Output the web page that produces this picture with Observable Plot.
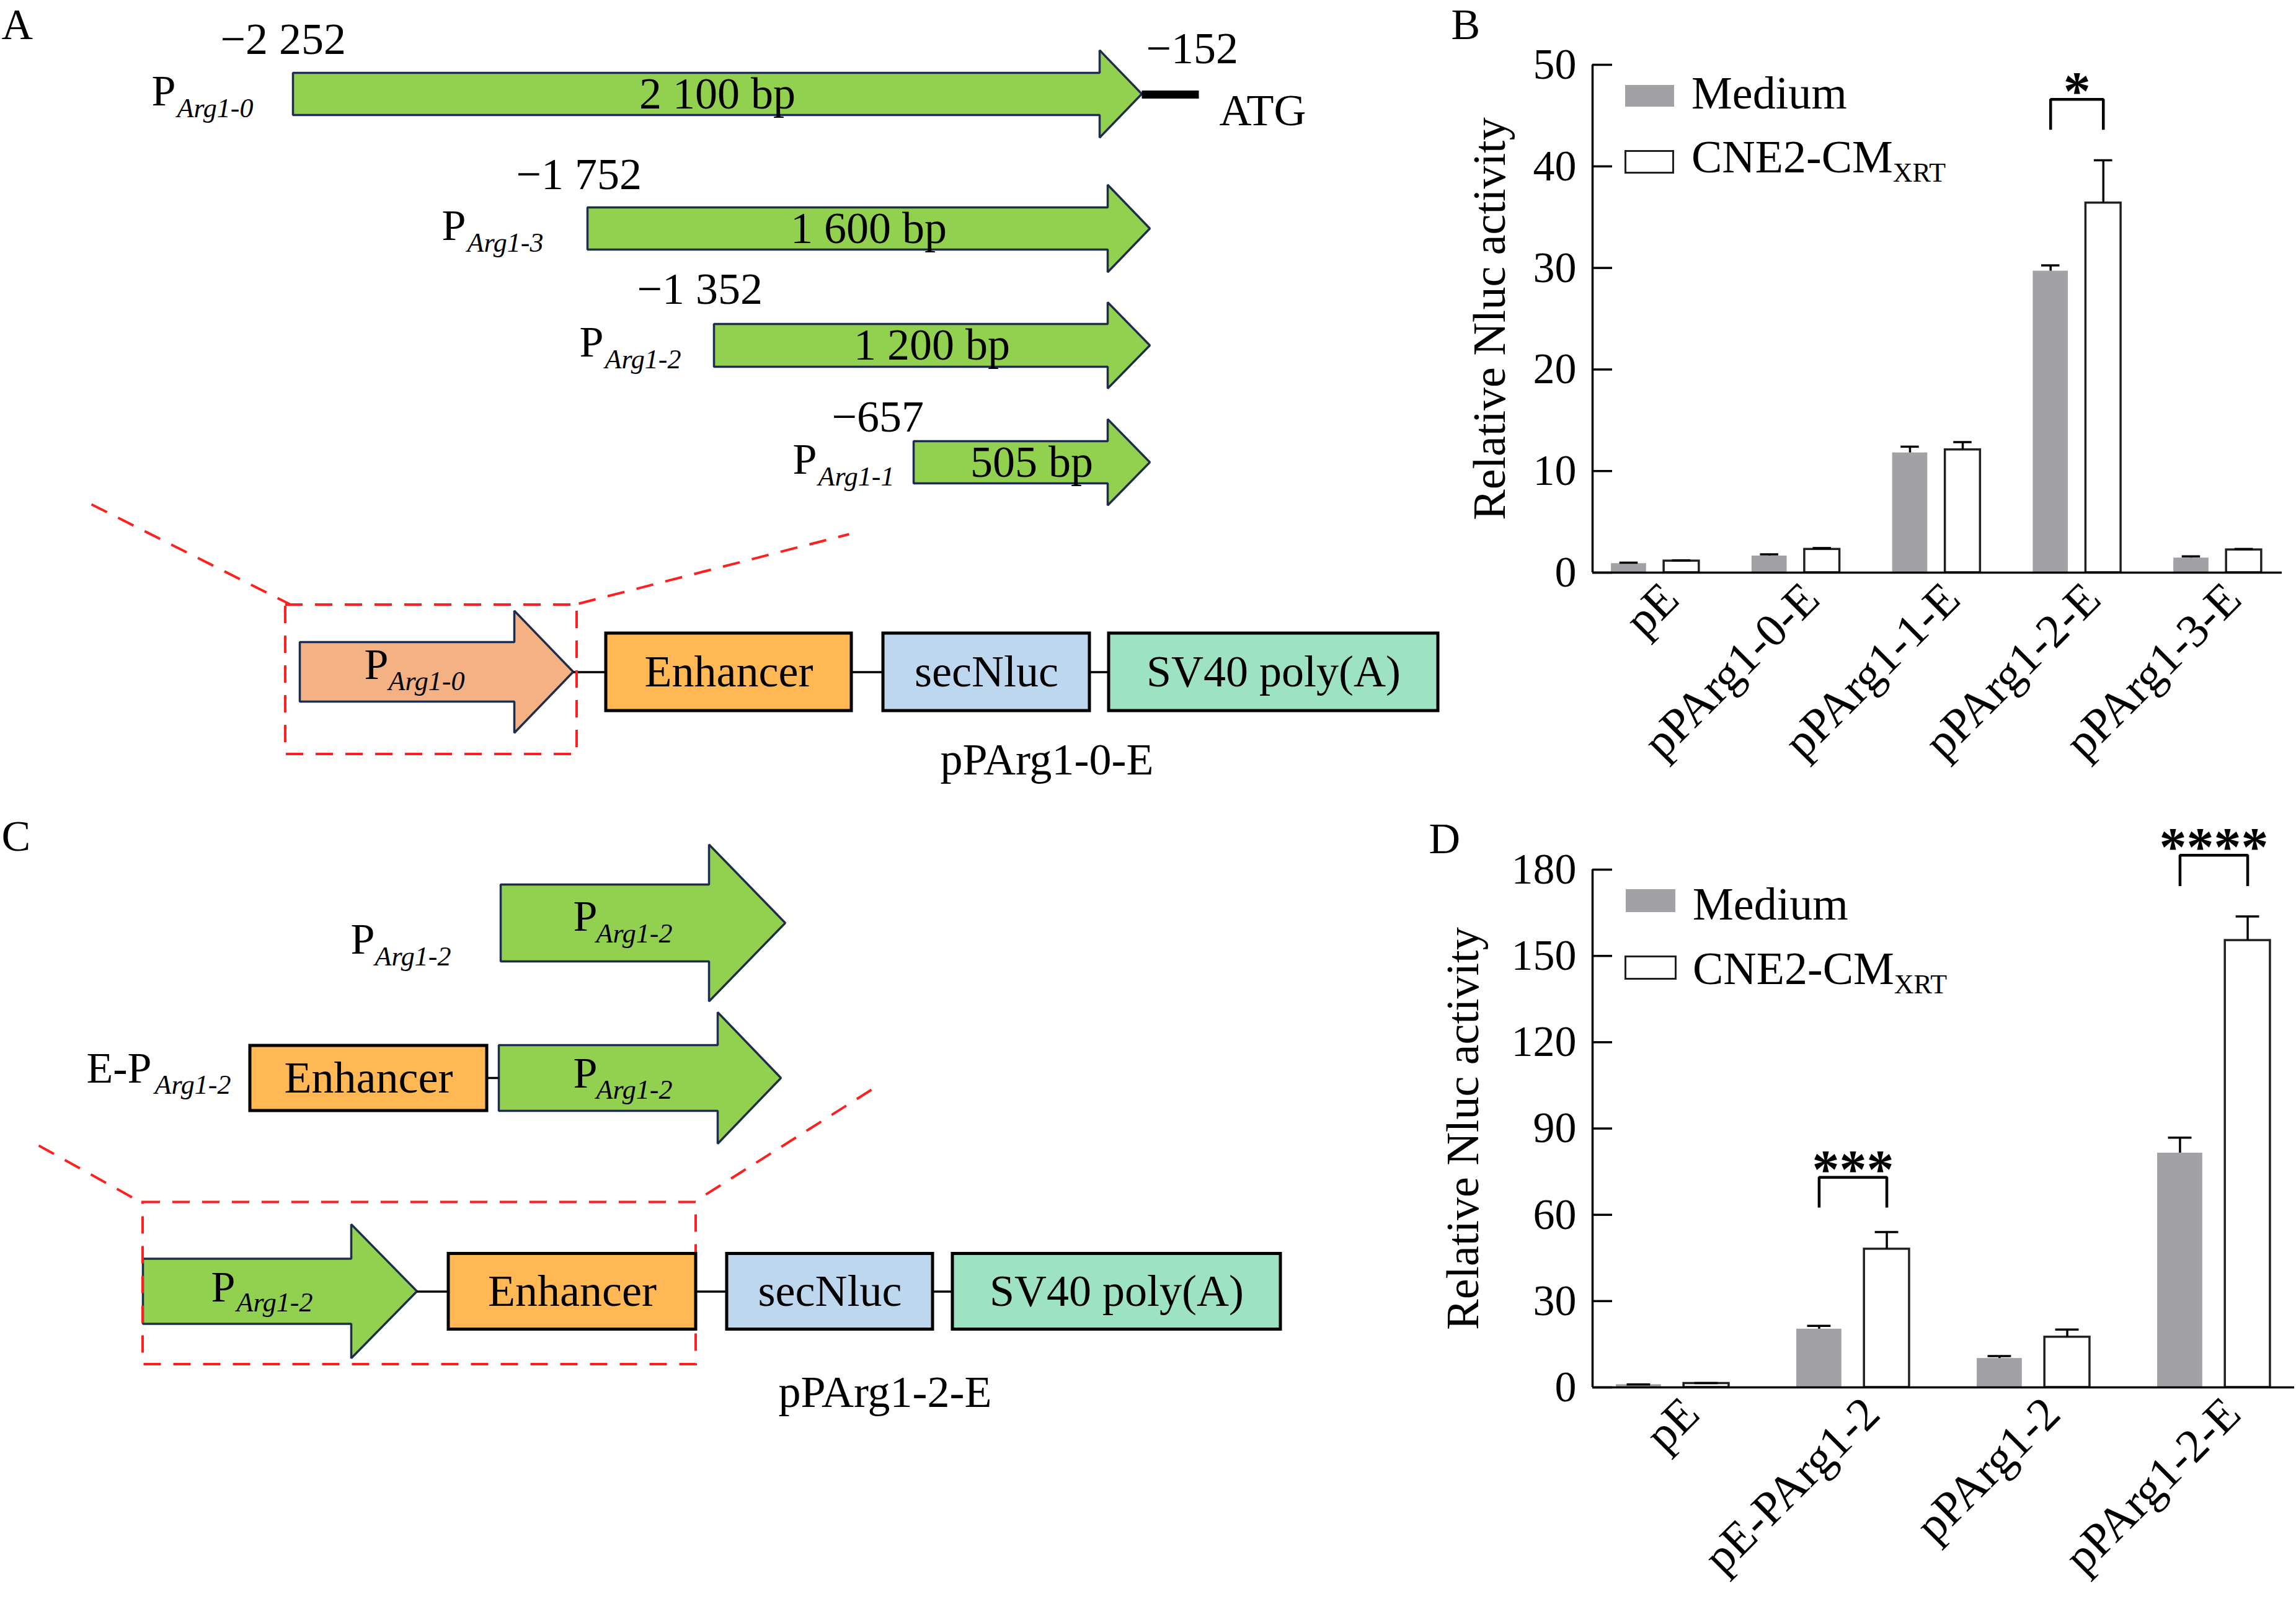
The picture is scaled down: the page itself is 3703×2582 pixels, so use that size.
<!DOCTYPE html>
<html>
<head>
<meta charset="utf-8">
<script src="https://cdn.jsdelivr.net/npm/d3@7"></script>
<script src="https://cdn.jsdelivr.net/npm/@observablehq/plot@0.6"></script>
<style>
html,body{margin:0;padding:0;background:#fff;}
#page{position:relative;width:3703px;height:2582px;overflow:hidden;background:#fff;}
.layer{position:absolute;}
.layer svg{display:block;max-width:none;background:transparent;}
.leg{position:absolute;font-family:'Liberation Serif','Times New Roman',serif;font-size:74px;line-height:74px;white-space:nowrap;color:#000;}
.sw{position:absolute;box-sizing:border-box;}
</style>
</head>
<body>
<div id="page"></div>
<script>
// ================= DATA =================
// Panel A – promoter fragments
const fragmentNames   = ["Arg1-0", "Arg1-3", "Arg1-2", "Arg1-1"];
const fragmentStarts  = ["\u22122 252", "\u22121 752", "\u22121 352", "\u2212657"];
const fragmentLengths = ["2 100 bp", "1 600 bp", "1 200 bp", "505 bp"];
const fragmentEnd = "\u2212152";
const startCodon = "ATG";
const constructParts = ["Enhancer", "secNluc", "SV40 poly(A)"];
const constructNames = ["pPArg1-0-E", "pPArg1-2-E"];
const panelLetters = ["A", "B", "C", "D"];

// Panel B
const groupsB  = ["pE", "pPArg1-0-E", "pPArg1-1-E", "pPArg1-2-E", "pPArg1-3-E"];
const mediumB  = [0.9, 1.65, 11.8, 29.7, 1.45];
const mediumErrB = [0.08, 0.15, 0.6, 0.55, 0.15];
const cneB     = [1.15, 2.3, 12.1, 36.4, 2.25];
const cneErrB  = [0.06, 0.12, 0.75, 4.2, 0.08];
const yTicksB  = [0, 10, 20, 30, 40, 50];
const sigLabelsB = ["*"];
const sigGroupsB = [3];

// Panel D
const groupsD  = ["pE", "pE-PArg1-2", "pPArg1-2", "pPArg1-2-E"];
const mediumD  = [1.0, 20.3, 10.1, 81.5];
const mediumErrD = [0.05, 1.1, 0.8, 5.3];
const cneD     = [1.4, 48.1, 17.5, 155.4];
const cneErrD  = [0.1, 5.9, 2.6, 8.3];
const yTicksD  = [0, 30, 60, 90, 120, 150, 180];
const sigLabelsD = ["***", "****"];
const sigGroupsD = [1, 3];

const seriesNames = ["Medium", "CNE2-CM"];
const seriesSubs  = ["", "XRT"];
const yTitle = "Relative Nluc activity";

// ================= STYLE / LAYOUT =================
const FONT = "'Liberation Serif','Times New Roman',serif";
const GREEN = "#92d050", SALMON = "#f4b183", ORANGE = "#ffb853", BLUE = "#bdd7ee", MINT = "#9ee2c4";
const NAVY = "#1f2d4d", RED = "#ff1f1f", GREY = "#a2a2a6", DARK = "#231f20";
const partFill = [ORANGE, BLUE, MINT];

// diagram geometry (pixels)
const arrowsA = [
  {x0: 472,  xb: 1773, xt: 1841, yc: 151,   bh: 34,   hh: 70.5, px: 244,  nx: 355,  ny: 86},
  {x0: 947,  xb: 1786, xt: 1854, yc: 368,   bh: 34,   hh: 70.5, px: 712,  nx: 832,  ny: 304},
  {x0: 1151, xb: 1786, xt: 1854, yc: 556.5, bh: 34.5, hh: 69.5, px: 934,  nx: 1027, ny: 489},
  {x0: 1473, xb: 1786, xt: 1854, yc: 745,   bh: 34,   hh: 69.5, px: 1278, nx: 1341, ny: 695}
];
const endMark = {x1: 1841, x2: 1933, y: 152, tx: 1848, ty: 101, ax: 1966, ay: 201.5};
const constructA = {
  arrow: {x0: 483, xb: 829, xt: 924, yc: 1083, bh: 48, hh: 98.5, px: 587, py: 1094, sx: 626, sy: 1112},
  boxes: [[977, 1373], [1424, 1757], [1788, 2319]], y1: 1021, y2: 1146,
  dash: {x1: 460, x2: 930, y1: 975, y2: 1216},
  diag: [[147, 813, 467, 974], [933, 973, 1369, 861]],
  label: {x: 1688, y: 1248}, sub: "Arg1-0"
};
const constructC = {
  arrow: {x0: 230, xb: 566, xt: 672, yc: 2082, bh: 52.5, hh: 108, px: 340, py: 2098, sx: 381, sy: 2114.5},
  boxes: [[723, 1122], [1172, 1504], [1536, 2065]], y1: 2021.5, y2: 2143.5,
  dash: {x1: 230, x2: 1122, y1: 1938.5, y2: 2200},
  diag: [[62, 1847, 227, 1938.5], [1405, 1757, 1122, 1936]],
  label: {x: 1427, y: 2268}, sub: "Arg1-2"
};
const cTop = {x0: 807, xb: 1143, xt: 1266, yc: 1488, bh: 62, hh: 126.5, px: 924, py: 1500, sx: 961, sy: 1519};
const cTopLabel = {px: 565, py: 1537, sx: 604, sy: 1556};
const cRow2 = {x0: 804, xb: 1157, xt: 1259, yc: 1738, bh: 53, hh: 106, px: 924, py: 1753, sx: 961, sy: 1771};
const cRow2Box = {x1: 403, x2: 785, y1: 1686, y2: 1791};
const cRow2Label = {px: 139, py: 1745, sx: 249, sy: 1763};
const letterPos = [[2, 62], [2340, 62], [2, 1371], [2304, 1375]];

function arrowPts(a, id) {
  return [[a.x0, a.yc - a.bh], [a.xb, a.yc - a.bh], [a.xb, a.yc - a.hh], [a.xt, a.yc],
          [a.xb, a.yc + a.hh], [a.xb, a.yc + a.bh], [a.x0, a.yc + a.bh]]
    .map(([x, y]) => ({id, x, y}));
}
function arrowMark(a, id, fill) {
  return Plot.line(arrowPts(a, id), {x: "x", y: "y", fill, stroke: NAVY, strokeWidth: 3.5,
    curve: "linear-closed", strokeLinejoin: "miter", strokeLinecap: "butt"});
}

// collect diagram texts
const tStart = [], tSub = [], tMid = [], tBase = [];
arrowsA.forEach((a, i) => {
  tStart.push({x: a.nx, y: a.ny, t: fragmentStarts[i], s: 72});
  tMid.push({x: (a.x0 + a.xt) / 2, y: a.yc, t: fragmentLengths[i], s: 72});
  tStart.push({x: a.px, y: a.yc + 18, t: "P", s: 70});
  tSub.push({x: a.px + 41, y: a.yc + 37, t: fragmentNames[i]});
});
tStart.push({x: endMark.tx, y: endMark.ty, t: fragmentEnd, s: 72});
tStart.push({x: endMark.ax, y: endMark.ay, t: startCodon, s: 72});
for (const a of [constructA.arrow, constructC.arrow, cTop, cRow2]) {
  tStart.push({x: a.px, y: a.py, t: "P", s: 70});
}
tSub.push({x: constructA.arrow.sx, y: constructA.arrow.sy, t: constructA.sub});
tSub.push({x: constructC.arrow.sx, y: constructC.arrow.sy, t: constructC.sub});
tSub.push({x: cTop.sx, y: cTop.sy, t: "Arg1-2"});
tSub.push({x: cRow2.sx, y: cRow2.sy, t: "Arg1-2"});
tStart.push({x: cTopLabel.px, y: cTopLabel.py, t: "P", s: 70});
tSub.push({x: cTopLabel.sx, y: cTopLabel.sy, t: "Arg1-2"});
tStart.push({x: cRow2Label.px, y: cRow2Label.py, t: "E-P", s: 70});
tSub.push({x: cRow2Label.sx, y: cRow2Label.sy, t: "Arg1-2"});
panelLetters.forEach((L, i) => tStart.push({x: letterPos[i][0], y: letterPos[i][1], t: L, s: 70}));

const boxes = [];
[constructA, constructC].forEach((c, k) => {
  c.boxes.forEach(([x1, x2], j) => boxes.push({x1, x2, y1: c.y1, y2: c.y2, fill: partFill[j], t: constructParts[j]}));
  tBase.push({x: c.label.x, y: c.label.y, t: constructNames[k]});
});
boxes.push({...cRow2Box, fill: ORANGE, t: constructParts[0]});
boxes.forEach(b => tMid.push({x: (b.x1 + b.x2) / 2, y: (b.y1 + b.y2) / 2, t: b.t, s: 72}));

const connectors = [];
[constructA, constructC].forEach(c => {
  const y = (c.y1 + c.y2) / 2;
  connectors.push({x1: c.arrow.xt, x2: c.boxes[0][0], y});
  connectors.push({x1: c.boxes[0][1], x2: c.boxes[1][0], y});
  connectors.push({x1: c.boxes[1][1], x2: c.boxes[2][0], y});
});
connectors.push({x1: cRow2Box.x2, x2: cRow2.x0, y: cRow2.yc});

const dashRects = [constructA.dash, constructC.dash];
const dashLines = [...constructA.diag, ...constructC.diag].map(([x1, y1, x2, y2]) => ({x1, y1, x2, y2}));

const diagram = Plot.plot({
  width: 3703, height: 2582, margin: 0,
  style: {fontFamily: FONT, fontSize: "72px", background: "transparent", overflow: "visible", color: "#000"},
  x: {type: "identity", axis: null},
  y: {type: "identity", axis: null},
  color: {type: "identity"},
  marks: [
    ...arrowsA.map((a, i) => arrowMark(a, i, GREEN)),
    Plot.link([endMark], {x1: "x1", x2: "x2", y1: "y", y2: "y", stroke: "#000", strokeWidth: 13}),
    arrowMark(constructA.arrow, "ca", SALMON),
    arrowMark(cTop, "ct", GREEN),
    arrowMark(cRow2, "cr", GREEN),
    arrowMark(constructC.arrow, "cc", GREEN),
    Plot.link(connectors, {x1: "x1", x2: "x2", y1: "y", y2: "y", stroke: "#000", strokeWidth: 3.5}),
    Plot.rect(dashRects, {x1: "x1", x2: "x2", y1: "y1", y2: "y2", fill: "none", stroke: RED, strokeWidth: 4, strokeDasharray: "28,20"}),
    Plot.link(dashLines, {x1: "x1", y1: "y1", x2: "x2", y2: "y2", stroke: RED, strokeWidth: 4, strokeDasharray: "28,20"}),
    Plot.rect(boxes, {x1: "x1", x2: "x2", y1: "y1", y2: "y2", fill: "fill", stroke: "#000", strokeWidth: 5}),
    Plot.text(tStart, {x: "x", y: "y", text: "t", fontSize: d => d.s, textAnchor: "start", lineAnchor: "bottom"}),
    Plot.text(tSub, {x: "x", y: "y", text: "t", fontSize: 44, fontStyle: "italic", textAnchor: "start", lineAnchor: "bottom"}),
    Plot.text(tMid, {x: "x", y: "y", text: "t", fontSize: d => d.s, textAnchor: "middle", lineAnchor: "middle"}),
    Plot.text(tBase, {x: "x", y: "y", text: "t", fontSize: 72, textAnchor: "middle", lineAnchor: "bottom"})
  ]
});

// ================= BAR PANELS =================
function barPanel(p) {
  const n = p.groups.length;
  const OFF = 0.1875, HW = 0.125, CAP = 0.065;
  const rows = p.groups.flatMap((g, i) => [
    {g, i, s: 0, v: p.med[i], e: p.medErr[i], c: i - OFF},
    {g, i, s: 1, v: p.cne[i], e: p.cneErr[i], c: i + OFF}
  ]);
  const sig = p.sigGroups.map((g, k) => ({group: g, label: p.sigLabels[k], top: p.brTop[k], leg: p.brLeg[k]}));
  const br = sig.flatMap((s, k) => [
    {k, x: s.group - OFF, y: s.leg}, {k, x: s.group - OFF, y: s.top},
    {k, x: s.group + OFF, y: s.top}, {k, x: s.group + OFF, y: s.leg}]);
  const x0 = -p.padL;
  return Plot.plot({
    width: p.width, height: p.height,
    marginLeft: p.ml, marginRight: p.mr, marginTop: p.mt, marginBottom: p.mb,
    style: {fontFamily: FONT, fontSize: "70px", background: "transparent", overflow: "visible", color: "#000"},
    x: {type: "linear", domain: [x0, n - 1 + p.padR], axis: null},
    y: {type: "linear", domain: [0, p.yMax]},
    marks: [
      Plot.rect(rows.filter(d => d.s === 0), {x1: d => d.c - HW, x2: d => d.c + HW, y1: () => 0, y2: "v", fill: GREY}),
      Plot.rect(rows.filter(d => d.s === 1), {x1: d => d.c - HW, x2: d => d.c + HW, y1: () => 0, y2: "v", fill: "#fff", stroke: DARK, strokeWidth: 3.5}),
      Plot.ruleX(rows, {x: "c", y1: "v", y2: d => d.v + d.e, stroke: "#000", strokeWidth: 3.5}),
      Plot.ruleY(rows, {y: d => d.v + d.e, x1: d => d.c - CAP, x2: d => d.c + CAP, stroke: "#000", strokeWidth: 3.5}),
      Plot.ruleY([0], {stroke: "#000", strokeWidth: 3.5}),
      Plot.ruleX([x0], {y1: () => 0, y2: () => p.yMax, stroke: "#000", strokeWidth: 3.5}),
      Plot.axisY({ticks: p.yTicks, tickSize: -32, tickFormat: () => "", strokeWidth: 3.5, label: null}),
      Plot.axisY({ticks: p.yTicks, tickSize: 0, tickPadding: 26, fontSize: 70, label: null}),
      Plot.text([yTitle], {frameAnchor: "left", rotate: -90, dx: p.titleDx, fontSize: 74, textAnchor: "middle", lineAnchor: "middle"}),
      Plot.text(p.groups, {x: (d, i) => i, y: () => 0, rotate: -45, textAnchor: "end", lineAnchor: "bottom", dx: p.labelDx, dy: 47, fontSize: 76}),
      Plot.line(br, {x: "x", y: "y", z: "k", stroke: "#000", strokeWidth: 4.5, strokeLinejoin: "miter", strokeLinecap: "butt", curve: "linear"}),
      Plot.text(sig, {x: "group", y: "top", text: "label", lineAnchor: "bottom", dy: 16, fontSize: 88, fontWeight: "bold", letterSpacing: "-6px"})
    ]
  });
}

const chartB = barPanel({
  groups: groupsB, med: mediumB, medErr: mediumErrB, cne: cneB, cneErr: cneErrB,
  yMax: 50, yTicks: yTicksB, sigGroups: sigGroupsB, sigLabels: sigLabelsB,
  brTop: [46.6], brLeg: [43.6],
  width: 1373, height: 1290, ml: 238, mr: 23, mt: 104, mb: 367, padL: 0.4453, padR: 0.4586, titleDx: -165, labelDx: 42
});
const chartD = barPanel({
  groups: groupsD, med: mediumD, medErr: mediumErrD, cne: cneD, cneErr: cneErrD,
  yMax: 180, yTicks: yTicksD, sigGroups: sigGroupsD, sigLabels: sigLabelsD,
  brTop: [73.05, 185.0], brLeg: [62.5, 174.3],
  width: 1373, height: 1292, ml: 238, mr: 3, mt: 112, mb: 345, padL: 0.4433, padR: 0.4467, titleDx: -208, labelDx: 47
});

// ================= ASSEMBLE =================
const page = document.getElementById("page");
function place(el, left, top, w, h) {
  const d = document.createElement("div");
  d.className = "layer";
  d.style.left = left + "px"; d.style.top = top + "px";
  d.style.width = w + "px"; d.style.height = h + "px";
  d.appendChild(el);
  page.appendChild(d);
}
place(diagram, 0, 0, 3703, 2582);
place(chartB, 2330, 0, 1373, 1290);
place(chartD, 2330, 1290, 1373, 1292);

// legends (inside the plot areas)
const legends = [
  {x: 2728, base: [175, 278], sw: [[2621, 137, 79, 35], [2620, 242, 80, 38]]},
  {x: 2730, base: [1483, 1587], sw: [[2622, 1434, 80, 37], [2620, 1541, 84, 39]]}
];
for (const L of legends) {
  seriesNames.forEach((name, k) => {
    const [sx, sy, sw, sh] = L.sw[k];
    const s = document.createElement("div");
    s.className = "sw";
    Object.assign(s.style, {left: sx + "px", top: sy + "px", width: sw + "px", height: sh + "px"});
    if (k === 0) s.style.background = GREY;
    else { s.style.background = "#fff"; s.style.border = "3.5px solid " + DARK; }
    page.appendChild(s);
    const t = document.createElement("div");
    t.className = "leg";
    t.style.left = L.x + "px";
    t.style.top = (L.base[k] - 62) + "px";
    t.textContent = name;
    if (seriesSubs[k]) {
      const sub = document.createElement("span");
      sub.textContent = seriesSubs[k];
      Object.assign(sub.style, {fontSize: "44px", position: "relative", top: "15px"});
      t.appendChild(sub);
    }
    page.appendChild(t);
  });
}
</script>
</body>
</html>
